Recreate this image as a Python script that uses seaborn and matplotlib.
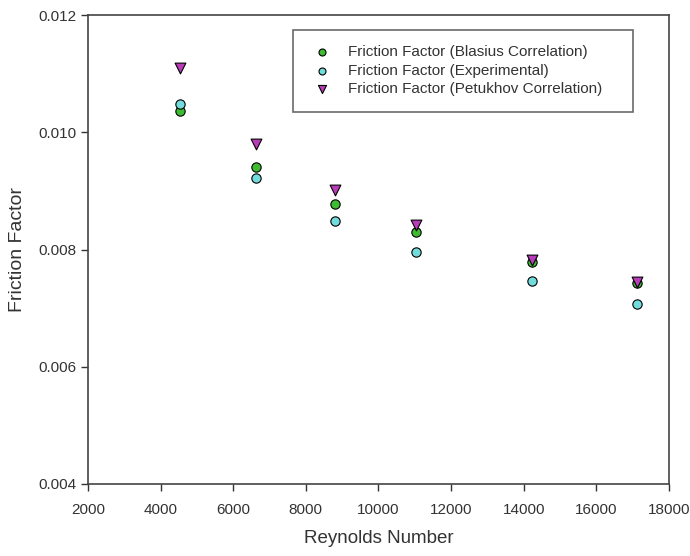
import matplotlib
matplotlib.use("Agg")
import matplotlib.pyplot as plt
import pandas as pd
import seaborn as sns

reynolds = [4540, 6630, 8800, 11040, 14230, 17120]
f_blasius = [0.01036, 0.00941, 0.00877, 0.00830, 0.00778, 0.00743]
f_experimental = [0.01048, 0.00922, 0.00848, 0.00796, 0.00746, 0.00707]
f_petukhov = [0.01110, 0.00980, 0.00901, 0.00842, 0.00782, 0.00744]

series = [
    ("Friction Factor (Blasius Correlation)", f_blasius, "o", "#3dbb33", 45),
    ("Friction Factor (Experimental)", f_experimental, "o", "#72dcdc", 45),
    ("Friction Factor (Petukhov Correlation)", f_petukhov, "v", "#b83cb8", 60),
]

sns.set_style("ticks")
plt.rcParams["font.family"] = ["Liberation Sans", "DejaVu Sans"]

fig = plt.figure(figsize=(6.9, 5.56), dpi=100)
ax = fig.add_axes([0.1275, 0.1295, 0.842, 0.8435])

for label, values, marker, color, size in series:
    df = pd.DataFrame({"Re": reynolds, "f": values})
    sns.scatterplot(data=df, x="Re", y="f", ax=ax, marker=marker, color=color,
                    edgecolor="black", linewidth=0.8, s=size, label=label, zorder=3)

ax.set_xlim(2000, 18000)
ax.set_ylim(0.004, 0.012)
ax.set_xticks(range(2000, 18001, 2000))
ax.set_yticks([0.004, 0.006, 0.008, 0.010, 0.012])
ax.set_yticklabels(["0.004", "0.006", "0.008", "0.010", "0.012"])
ax.tick_params(axis="both", direction="out", length=5, width=1, labelsize=11, colors="#333333")
ax.tick_params(axis="x", pad=9)
ax.tick_params(top=False, right=False)
for sp in ax.spines.values():
    sp.set_color("#444444")
    sp.set_linewidth(1.2)
ax.set_xlabel("Reynolds Number", fontsize=13.5, color="#333333", labelpad=9)
ax.set_ylabel("Friction Factor", fontsize=14, color="#333333", labelpad=9)

leg = ax.legend(loc="upper left", bbox_to_anchor=(0.353, 0.78, 0.585, 0.188), mode="expand",
                fontsize=11, frameon=True, fancybox=False, borderpad=1.0,
                handlelength=1.8, handletextpad=0.8, labelspacing=0.3,
                markerscale=0.75, borderaxespad=0)
leg.get_frame().set_edgecolor("#444444")
leg.get_frame().set_linewidth(1.2)
for t in leg.get_texts():
    t.set_color("#333333")

fig.savefig("out.png", dpi=100)
